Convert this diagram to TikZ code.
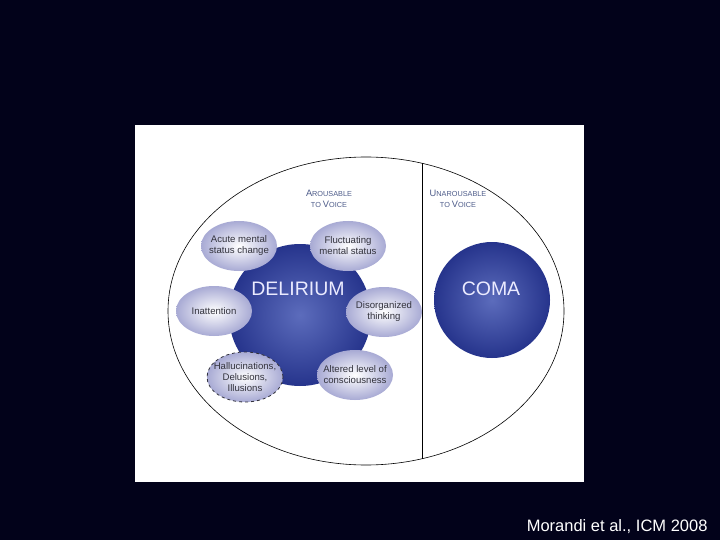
\documentclass[tikz,border=0pt]{standalone}
\usepackage{fontspec}
\setmainfont{Liberation Sans}
\usepackage{tikz}
\usetikzlibrary{shapes.geometric}

\definecolor{slidebg}{RGB}{2,2,26}
\definecolor{deepblue}{RGB}{38,52,140}
\definecolor{midblue}{RGB}{92,108,188}
\definecolor{lavender}{RGB}{168,170,212}
\definecolor{capblue}{RGB}{78,92,138}
\definecolor{labelgray}{RGB}{50,50,60}

\newcommand{\smcap}[2]{{\fontsize{9.3}{10}\selectfont #1}{\fontsize{7.3}{10}\selectfont #2}}

\begin{document}
\begin{tikzpicture}[x=1pt,y=-1pt,
    bigball/.style={shape=circle,inner sep=0pt,shading=radial,
      inner color=midblue,outer color=deepblue},
    sign/.style={shape=ellipse,inner xsep=-14pt,inner ysep=-4pt,minimum width=76pt,minimum height=50pt,
      shading=radial,inner color=white,outer color=lavender,text=labelgray,
      align=center,font=\fontsize{9.6}{11}\selectfont},
    bigword/.style={text=white!92!blue,font=\fontsize{19.5}{22}\selectfont},
    header/.style={text=capblue,align=center}]
  \useasboundingbox (0,0) rectangle (720,540);
  \fill [slidebg] (0,0) rectangle (720,540);
  \fill [white] (135,125) rectangle (584,482);

  \node [name=frame,shape=ellipse,draw,semithick,minimum width=396pt,minimum height=308pt] at (366,311) {};
  \coordinate (cuttop) at (422,163);
  \coordinate (cutbot) at (422,459);
  \draw [semithick] (cuttop) -- (cutbot);

  \node [header] (aro) at (329,199) {\smcap{A}{ROUSABLE}\\[-1pt]\smcap{}{TO }\smcap{V}{OICE}};
  \node [header] (unaro) at (458,199) {\smcap{U}{NAROUSABLE}\\[-1pt]\smcap{}{TO }\smcap{V}{OICE}};

  \node [name=delirium,bigball,minimum size=142pt] at (300,315) {};
  \node [name=coma,bigball,minimum size=116pt] at (492,300) {};
  \node [bigword] (dword) at (298,289) {DELIRIUM};
  \node [bigword] (cword) at (491,289) {COMA};

  \node [sign] (acute) at (239,246) {Acute mental\\status change};
  \node [sign] (fluct) at (348,246) {Fluctuating\\mental status};
  \node [sign] (inatt) at (214,311) {Inattention};
  \node [sign] (disorg) at (384,312) {Disorganized\\thinking};
  \node [sign,draw=labelgray,dashed,thick] (halluc) at (245,377) {Hallucinations,\\Delusions,\\Illusions};
  \node [sign] (altered) at (355,375) {Altered level of\\consciousness};

  \node [text=white,font=\fontsize{16.5}{18}\selectfont,anchor=east] (cite) at (711,527) {Morandi et al., ICM 2008};
\end{tikzpicture}
\end{document}
